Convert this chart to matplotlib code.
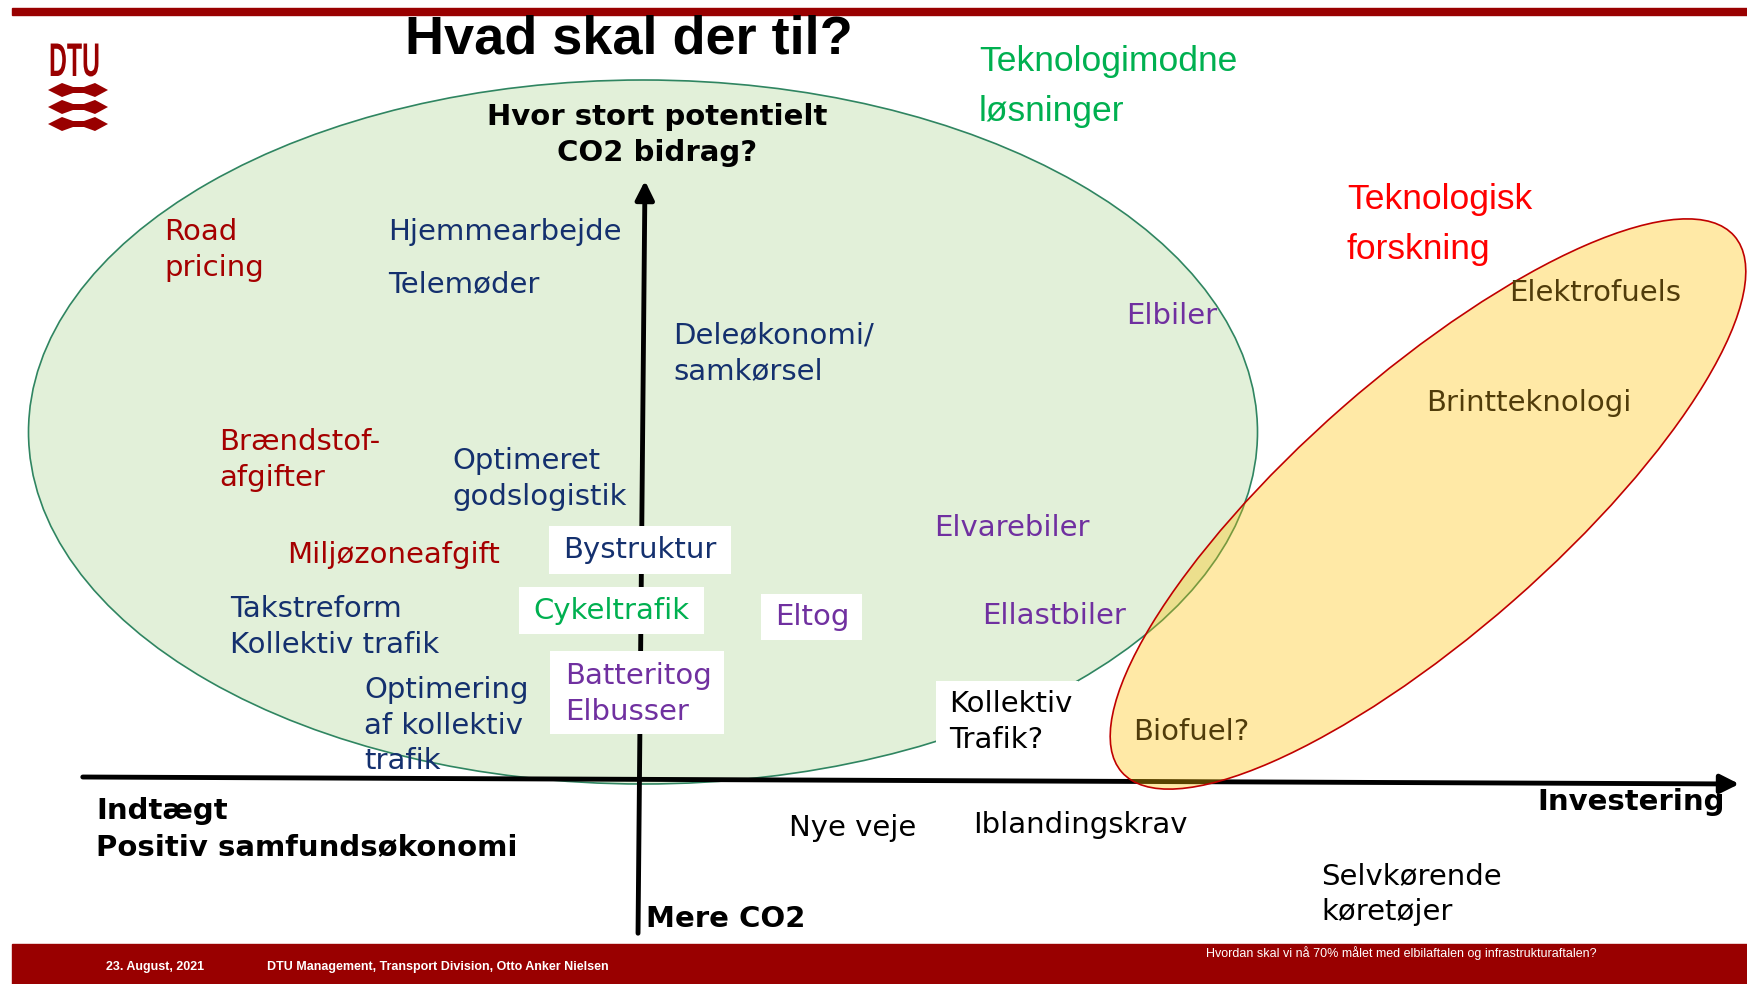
import matplotlib
matplotlib.use('Agg')
from matplotlib import pyplot as plt
from matplotlib.patches import Ellipse, Rectangle, Polygon, PathPatch
from matplotlib.textpath import TextPath
from matplotlib.font_manager import FontProperties
from matplotlib.transforms import Affine2D

# Slide texts
title = 'Hvad skal der til?'
y_axis_label = 'Hvor stort potentielt\nCO2 bidrag?'
x_pos_label = 'Investering'
x_neg_label = 'Indtægt\nPositiv samfundsøkonomi'
y_neg_label = 'Mere CO2'
group_labels = ['Teknologimodne\nløsninger', 'Teknologisk\nforskning']
footer_date = '23. August, 2021'
footer_author = 'DTU Management, Transport Division, Otto Anker Nielsen'
footer_question = 'Hvordan skal vi nå 70% målet med elbilaftalen og infrastrukturaftalen?'

# Measures placed on the map
measures = ['Road\npricing', 'Hjemmearbejde', 'Telemøder', 'Deleøkonomi/\nsamkørsel',
            'Elbiler', 'Elektrofuels', 'Brintteknologi', 'Brændstof-\nafgifter',
            'Optimeret\ngodslogistik', 'Elvarebiler', 'Miljøzoneafgift',
            'Ellastbiler', 'Takstreform\nKollektiv trafik', 'Optimering\naf kollektiv\ntrafik',
            'Biofuel?', 'Nye veje', 'Iblandingskrav', 'Selvkørende\nkøretøjer']
measure_kind = ['pris', 'adfaerd', 'adfaerd', 'adfaerd',
                'el', 'brændsel', 'brændsel', 'pris',
                'adfaerd', 'el', 'pris',
                'el', 'adfaerd', 'adfaerd',
                'brændsel', 'andet', 'andet', 'andet']
boxed = ['Bystruktur', 'Cykeltrafik', 'Eltog', 'Batteritog\nElbusser', 'Kollektiv\nTrafik?']
boxed_kind = ['adfaerd', 'cykel', 'el', 'el', 'andet']

# layout (pixel positions on the slide)
measure_x = [164, 388, 388, 673, 1126, 1509, 1426, 219, 452, 934, 287, 982, 230, 364, 1133, 789, 973, 1321]
measure_y = [232, 232, 284, 335, 316, 293, 403, 442, 461, 528, 555, 616, 609, 690, 732, 828, 825, 876]
boxed_x = [563, 533, 775, 565, 949]
boxed_y = [550, 611, 617, 676, 704]
box_rects = [(549, 526, 182, 48), (519, 587, 185, 47), (761, 594, 101, 46),
             (550, 651, 174, 83), (936, 681, 142, 88)]

colors = {'pris': '#A50000', 'adfaerd': '#14306E', 'el': '#7030A0',
          'brændsel': '#503C0A', 'andet': 'black', 'cykel': '#00B050'}

DARK_RED = '#990000'
W, H = 1747, 984
step = 35.7

fig = plt.figure(figsize=(W / 100, H / 100), dpi=100)
ax = fig.add_axes([0, 0, 1, 1])
ax.set_xlim(0, W)
ax.set_ylim(H, 0)
ax.axis('off')


def put(x, y, txt, color, size=21, weight='normal', family='DejaVu Sans', gap=step, ha='left'):
    for i, line in enumerate(txt.split('\n')):
        ax.text(x, y + i * gap, line, color=color, fontsize=size, fontweight=weight,
                family=family, ha=ha, va='center', zorder=6)


# top line and footer
ax.add_patch(Rectangle((12, 8), W - 12, 7, color=DARK_RED, zorder=1))
ax.add_patch(Rectangle((12, 944), W - 12, 40, color=DARK_RED, zorder=1))
ax.text(106, 967, footer_date, color='white', fontsize=9, fontweight='bold',
        family='Liberation Sans', va='center')
ax.text(267, 967, footer_author, color='white', fontsize=9, fontweight='bold',
        family='Liberation Sans', va='center')
ax.text(1206, 953, footer_question, color='white', fontsize=9,
        family='Liberation Sans', va='center')

# DTU logo
tp = TextPath((0, 0), 'DTU', size=40, prop=FontProperties(family='Liberation Sans', weight='bold'))
tp = Affine2D().scale(0.62, -1.18).translate(49, 76).transform_path(tp)
ax.add_patch(PathPatch(tp, color=DARK_RED, lw=0))
for yc in [90, 107, 124]:
    ax.add_patch(Polygon([(48, yc), (62, yc - 7), (73, yc - 3), (84, yc - 3), (95, yc - 7),
                          (108, yc), (95, yc + 7), (84, yc + 3), (73, yc + 3), (62, yc + 7)],
                         closed=True, color=DARK_RED, lw=0))

# title
ax.text(629, 40, title, fontsize=39, fontweight='bold', family='Liberation Sans',
        ha='center', va='center')

# green ellipse under the axes
ax.add_patch(Ellipse((643, 432), 1229, 704, facecolor='#E2F0D9', edgecolor='#2F8561',
                     lw=1.2, zorder=1))

# axes arrows
ax.annotate('', xy=(1742, 784), xytext=(80, 777),
            arrowprops=dict(arrowstyle='-|>', lw=3.5, color='black', mutation_scale=28), zorder=2)
ax.annotate('', xy=(645, 178), xytext=(638, 936),
            arrowprops=dict(arrowstyle='-|>', lw=3.5, color='black', mutation_scale=28), zorder=2)

# orange ellipse, see-through, on top of the axis
ax.add_patch(Ellipse((1428, 504), 814, 258, angle=-41.2, facecolor='#FFC000', alpha=0.35,
                     edgecolor='none', zorder=3))
ax.add_patch(Ellipse((1428, 504), 814, 258, angle=-41.2, facecolor='none',
                     edgecolor='#C00000', lw=1.2, zorder=3))

# axis texts
put(657, 117, y_axis_label, 'black', weight='bold', ha='center')
put(1725, 802, x_pos_label, 'black', weight='bold', ha='right')
put(96, 811, x_neg_label, 'black', weight='bold')
put(646, 919, y_neg_label, 'black', weight='bold')

# group headers
put(979, 62, group_labels[0], '#00B050', size=25.5, family='Liberation Sans', gap=49)
put(1347, 200, group_labels[1], '#FF0000', size=25.5, family='Liberation Sans', gap=50)

# measures
for txt, kind, x, y in zip(measures, measure_kind, measure_x, measure_y):
    put(x, y, txt, colors[kind])

for txt, kind, x, y, r in zip(boxed, boxed_kind, boxed_x, boxed_y, box_rects):
    ax.add_patch(Rectangle((r[0], r[1]), r[2], r[3], facecolor='white', edgecolor='none', zorder=4))
    put(x, y, txt, colors[kind])

fig.savefig('out.png', dpi=100)
